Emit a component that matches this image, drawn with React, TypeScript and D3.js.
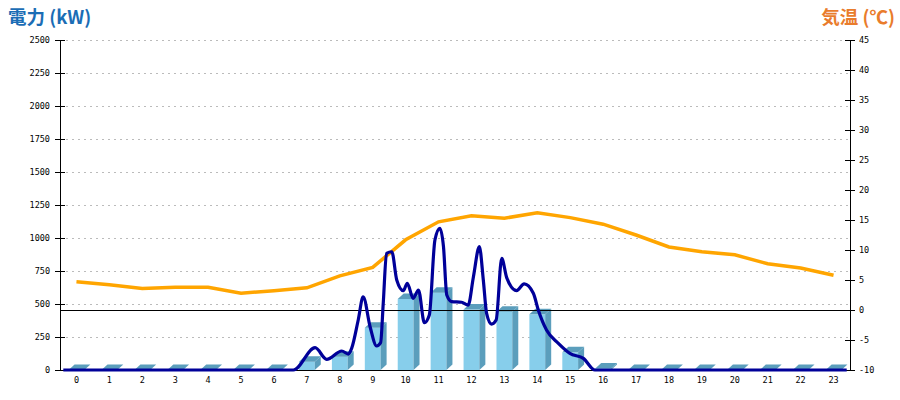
import * as d3 from "d3";

const hourLabels = ["0", "1", "2", "3", "4", "5", "6", "7", "8", "9", "10", "11", "12", "13", "14", "15", "16", "17", "18", "19", "20", "21", "22", "23"];

// hourly generated power (kW)
const powerHourly = [0, 0, 0, 0, 0, 0, 0, 63, 101, 320, 538, 586, 458, 442, 422, 134, 12, 0, 0, 0, 0, 0, 0, 0];

// hourly temperature (°C)
const tempHourly = [4.7, 4.2, 3.6, 3.8, 3.8, 2.8, 3.2, 3.7, 5.7, 7.1, 11.7, 14.7, 15.7, 15.3, 16.2, 15.4, 14.3, 12.5, 10.5, 9.7, 9.2, 7.7, 7.0, 5.8];

// instantaneous power, [hour of day, kW]
const powerTrace: [number, number][] = [
  [0.1, 0], [7.09, 0], [7.75, 169], [8.1, 81], [8.56, 144], [8.76, 121], [8.86, 164],
  [9.06, 379], [9.21, 555], [9.42, 328], [9.62, 182], [9.74, 207], [9.82, 505], [9.92, 884],
  [10.08, 896], [10.23, 682], [10.43, 601], [10.55, 657], [10.73, 543], [10.89, 606],
  [11.07, 358], [11.22, 417], [11.39, 985], [11.54, 1073], [11.65, 934], [11.75, 568],
  [11.9, 518], [12.2, 513], [12.4, 492], [12.56, 707], [12.74, 934], [12.86, 682],
  [12.96, 429], [13.11, 348], [13.25, 379], [13.42, 846], [13.57, 700], [13.87, 601],
  [14.1, 652], [14.38, 581], [14.53, 455], [14.78, 303], [15.14, 202], [15.49, 126],
  [15.9, 88], [16.25, 0], [23.9, 0],
];

const powerTicks = [0, 250, 500, 750, 1000, 1250, 1500, 1750, 2000, 2250, 2500];
const tempTicks = [-10, -5, 0, 5, 10, 15, 20, 25, 30, 35, 40, 45];

const W = 900, H = 400;
const left = 60, right = 850, top = 40, bottom = 370;
const font = "'DejaVu Sans Mono', monospace";

export default function App() {
  const x = d3.scaleBand().domain(hourLabels).range([left, right]);
  const xt = d3.scaleLinear().domain([0, 24]).range([left, right]);
  const yP = d3.scaleLinear().domain([0, 2500]).range([bottom, top]);
  const yT = d3.scaleLinear().domain([-10, 45]).range([bottom, top]);

  const barW = x.bandwidth() * 0.48;
  const dx = 6, dy = 5.5;

  const tempLine = d3.line<number>()
    .x((_, i) => x(hourLabels[i])! + x.bandwidth() / 2)
    .y(d => yT(d));

  const powerLine = d3.line<[number, number]>()
    .x(d => xt(d[0]))
    .y(d => yP(d[1]))
    .curve(d3.curveMonotoneX);

  return (
    <svg width={W} height={H} style={{ position: "fixed", left: 0, top: 0, background: "#fff" }}>
      <text x={8} y={24} fontSize={18.5} fontWeight="bold" fill="#1b6db5"
        fontFamily="'Noto Sans CJK JP', sans-serif">電力 (kW)</text>
      <text x={895} y={24} fontSize={18.5} fontWeight="bold" fill="#e97c2c" textAnchor="end"
        fontFamily="'Noto Sans CJK JP', sans-serif">気温 (℃)</text>

      <g shapeRendering="crispEdges">
        {powerTicks.map(t => (
          <g key={"p" + t}>
            {t > 0 && <line x1={left + 6} x2={right} y1={yP(t)} y2={yP(t)}
              stroke="#bbb" strokeDasharray="2,4" />}
            <line x1={left - 5} x2={left + 5} y1={yP(t)} y2={yP(t)} stroke="#000" />
          </g>
        ))}
        {tempTicks.map(t => (
          <line key={"tt" + t} x1={right - 5} x2={right + 5} y1={yT(t)} y2={yT(t)} stroke="#000" />
        ))}
        <line x1={left} x2={left} y1={top} y2={bottom} stroke="#000" />
        <line x1={right} x2={right} y1={top} y2={bottom} stroke="#000" />
        <line x1={left} x2={right} y1={bottom} y2={bottom} stroke="#000" />
      </g>
      {powerTicks.map(t => (
        <text key={"pl" + t} x={left - 10} y={yP(t) + 3} fontSize={8.5} fontFamily={font} textAnchor="end">{t}</text>
      ))}
      {tempTicks.map(t => (
        <text key={"tl" + t} x={right + 9} y={yT(t) + 3} fontSize={8.5} fontFamily={font}>{t}</text>
      ))}

      {hourLabels.map(h => (
        <text key={"x" + h} x={x(h)! + x.bandwidth() / 2} y={383} fontSize={8.5}
          fontFamily={font} textAnchor="middle">{h}</text>
      ))}

      {powerHourly.map((v, i) => {
        const x0 = x(hourLabels[i])! + x.bandwidth() / 2 - barW / 2;
        const yt = yP(v);
        const y0 = yP(0);
        return (
          <g key={"b" + i}>
            <rect x={x0} y={yt} width={barW} height={y0 - yt} fill="#87ceeb" />
            <polygon fill="#5b9ebc"
              points={`${x0 + barW},${yt} ${x0 + barW + dx},${yt - dy} ${x0 + barW + dx},${y0 - dy} ${x0 + barW},${y0}`} />
            <polygon fill="#5b9ebc"
              points={`${x0},${yt} ${x0 + dx},${yt - dy} ${x0 + barW + dx},${yt - dy} ${x0 + barW},${yt}`} />
          </g>
        );
      })}

      <line x1={left} x2={right} y1={yT(0)} y2={yT(0)} stroke="#000" shapeRendering="crispEdges" />

      <path d={tempLine(tempHourly)!} fill="none" stroke="#ffa500" strokeWidth={3.5} />
      <path d={powerLine(powerTrace)!} fill="none" stroke="#000099" strokeWidth={3.2} />
    </svg>
  );
}
